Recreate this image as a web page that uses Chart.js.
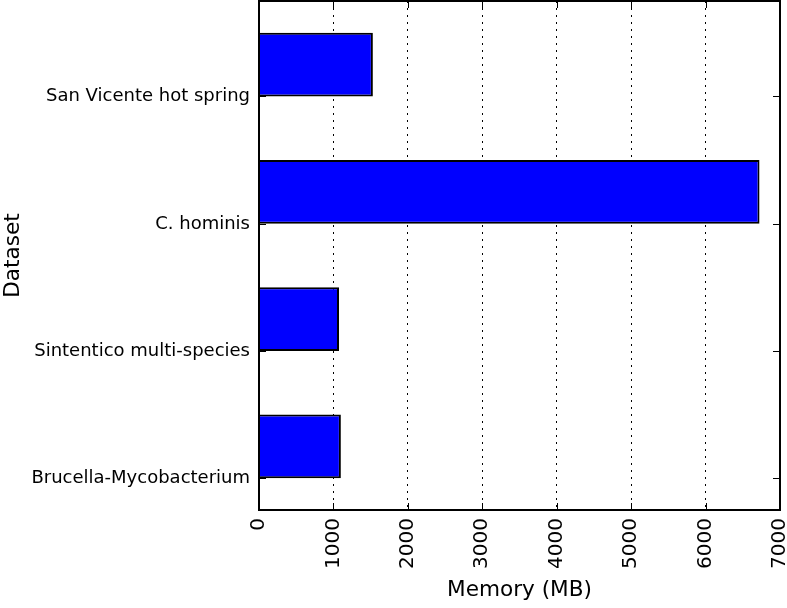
<!DOCTYPE html>
<html>
<head>
<meta charset="utf-8">
<script src="https://cdn.jsdelivr.net/npm/chart.js@4"></script>
<style>
  html, body { margin: 0; padding: 0; background: #fff; }
  #wrap { width: 787px; height: 608px; }
</style>
</head>
<body>
<div id="wrap"><canvas id="chartCanvas" width="787" height="608"></canvas></div>
<script>
// --- data ---
const datasets = ["San Vicente hot spring", "C. hominis", "Sintentico multi-species", "Brucella-Mycobacterium"];
const memoryMB = [1530, 6725, 1075, 1100];
const xMin = 0;
const xMax = 7000;
const xStep = 1000;

const FONT = "'DejaVu Sans', sans-serif";

// frame + inward ticks on all four sides (matplotlib classic look)
const frameTicks = {
  id: "frameTicks",
  afterDraw(chart) {
    const { ctx, chartArea: a, scales } = chart;
    const len = 7;
    ctx.save();
    ctx.strokeStyle = "#000";
    ctx.lineWidth = 1;
    ctx.beginPath();
    scales.x.ticks.forEach(t => {
      const px = Math.round(scales.x.getPixelForValue(t.value)) + 0.5;
      ctx.moveTo(px, a.bottom); ctx.lineTo(px, a.bottom - len);
      ctx.moveTo(px, a.top); ctx.lineTo(px, a.top + len);
    });
    // y ticks sit on the bottom edge of each bar (bar = half the category band)
    const quarter = (scales.y.getPixelForValue(1) - scales.y.getPixelForValue(0)) / 4;
    datasets.forEach((d, i) => {
      const py = Math.round(scales.y.getPixelForValue(i) + quarter) + 0.5;
      ctx.moveTo(a.left, py); ctx.lineTo(a.left + len, py);
      ctx.moveTo(a.right, py); ctx.lineTo(a.right - len, py);
    });
    ctx.stroke();
    ctx.lineWidth = 2;
    ctx.strokeRect(a.left, a.top, a.right - a.left, a.bottom - a.top);
    ctx.restore();
  }
};

new Chart(document.getElementById("chartCanvas"), {
  type: "bar",
  data: {
    labels: datasets,
    datasets: [{
      label: "Memory (MB)",
      data: memoryMB,
      backgroundColor: "#0000ff",
      borderColor: "#000",
      borderWidth: 2,
      barPercentage: 0.5,
      categoryPercentage: 1.0
    }]
  },
  options: {
    indexAxis: "y",
    responsive: false,
    animation: false,
    layout: { padding: { top: 1, right: 7, left: 0, bottom: 0 } },
    plugins: {
      legend: { display: false },
      tooltip: { enabled: false }
    },
    scales: {
      x: {
        min: xMin,
        max: xMax,
        afterFit: s => { s.height = 98; s.paddingLeft = 0; s.paddingRight = 0; },
        border: { display: false, dash: [2, 5] },
        grid: { color: "#000", lineWidth: 1, drawTicks: false },
        ticks: {
          stepSize: xStep,
          minRotation: 90,
          maxRotation: 90,
          padding: 8,
          color: "#000",
          font: { family: FONT, size: 20 },
          callback: v => String(v)
        },
        title: {
          display: true,
          text: "Memory (MB)",
          color: "#000",
          font: { family: FONT, size: 21.6 },
          padding: { top: 0, bottom: 5 }
        }
      },
      y: {
        afterFit: s => { s.width = 259; s.paddingTop = 0; s.paddingBottom = 0; },
        border: { display: false },
        grid: { display: false, drawTicks: false },
        ticks: {
          padding: 9,
          labelOffset: 32,
          color: "#000",
          font: { family: FONT, size: 18 }
        },
        title: {
          display: true,
          text: "Dataset",
          color: "#000",
          font: { family: FONT, size: 21.6 },
          padding: { top: 0, bottom: 0 }
        }
      }
    }
  },
  plugins: [frameTicks]
});
</script>
</body>
</html>
